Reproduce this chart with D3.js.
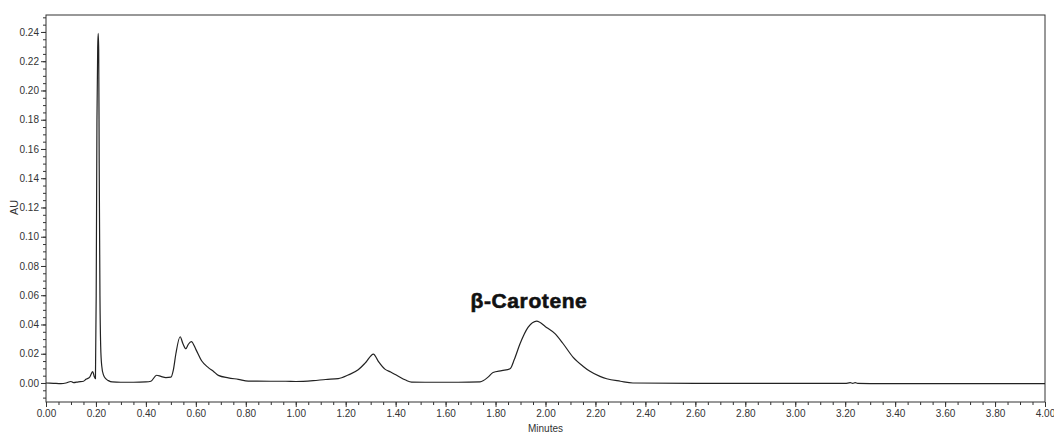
<!DOCTYPE html>
<html>
<head>
<meta charset="utf-8">
<script src="https://cdn.jsdelivr.net/npm/d3@7"></script>
<style>
  body { margin: 0; background: #fff; }
  svg text { font-family: "Liberation Sans Narrow", "Liberation Sans", Arial, sans-serif; fill: #333; }
</style>
</head>
<body>
<script>
// retention time (minutes) and absorbance (AU)
var times = [0.00, 0.03, 0.06, 0.08, 0.10, 0.11, 0.13, 0.15, 0.16, 0.175, 0.187, 0.193, 0.198,
  0.201, 0.204, 0.207, 0.209, 0.211, 0.213, 0.216, 0.219, 0.223, 0.230, 0.240, 0.250, 0.265,
  0.30, 0.35, 0.40, 0.42, 0.443, 0.46, 0.48, 0.50, 0.51, 0.52, 0.537, 0.548, 0.560, 0.570,
  0.582, 0.600, 0.623, 0.650, 0.670, 0.690, 0.73, 0.77, 0.81, 0.90, 0.96, 1.00, 1.07, 1.12,
  1.17, 1.21, 1.25, 1.28, 1.311, 1.33, 1.357, 1.38, 1.404, 1.44, 1.464, 1.55, 1.65, 1.738,
  1.77, 1.79, 1.825, 1.858, 1.875, 1.898, 1.93, 1.965, 2.00, 2.038, 2.07, 2.11, 2.15, 2.178,
  2.218, 2.245, 2.30, 2.35, 2.60, 3.00, 3.20, 3.22, 3.23, 3.24, 3.25, 3.30, 4.00];
var au = [0.0000, -0.0002, -0.0004, 0.0000, 0.0010, 0.0002, 0.0008, 0.0012, 0.0025, 0.0040, 0.0078, 0.0045, 0.0030,
  0.0600, 0.1800, 0.2290, 0.2390, 0.2280, 0.1500, 0.0600, 0.0250, 0.0120, 0.0055, 0.0028, 0.0016, 0.0007,
  0.0005, 0.0005, 0.0007, 0.0012, 0.0053, 0.0045, 0.0037, 0.0040, 0.0090, 0.0200, 0.0316, 0.0270, 0.0234, 0.0265,
  0.0283, 0.0230, 0.0152, 0.0105, 0.0080, 0.0052, 0.0035, 0.0025, 0.0013, 0.0012, 0.0012, 0.0010, 0.0016, 0.0024,
  0.0030, 0.0055, 0.0090, 0.0140, 0.0198, 0.0150, 0.0095, 0.0075, 0.0053, 0.0020, 0.0006, 0.0005, 0.0005, 0.0008,
  0.0040, 0.0072, 0.0085, 0.0097, 0.0160, 0.0268, 0.0380, 0.0423, 0.0385, 0.0337, 0.0270, 0.0177, 0.0115, 0.0080,
  0.0045, 0.0029, 0.0012, 0.0000, -0.0002, -0.0003, -0.0003, 0.0002, -0.0003, 0.0002, -0.0003, -0.0004, -0.0005];

var xMajor = d3.range(0, 4.0001, 0.2);
var xMinor = d3.range(0, 4.0001, 0.05);
var yMajor = d3.range(0, 0.2401, 0.02);
var yMinor = d3.range(-0.01, 0.2501, 0.005);

var peakLabel = { text: "β-Carotene", t: 1.7, v: 0.0515 };

var width = 1054, height = 437;
var margin = { left: 46, right: 9, top: 15, bottom: 35 };

var svg = d3.select("body").append("svg")
  .attr("width", width)
  .attr("height", height);

var x = d3.scaleLinear().domain([0, 4]).range([margin.left, width - margin.right]);
var y = d3.scaleLinear().domain([-0.013, 0.2516]).range([height - margin.bottom, margin.top]);

// frame
svg.append("rect")
  .attr("x", x(0)).attr("y", y(0.2516))
  .attr("width", x(4) - x(0)).attr("height", y(-0.013) - y(0.2516))
  .attr("fill", "none").attr("stroke", "#333").attr("stroke-width", 1);

// x axis: major with labels, minor without
var xAxis = svg.append("g").attr("transform", "translate(0," + y(-0.013) + ")");
xAxis.call(d3.axisBottom(x).tickValues(xMinor).tickSize(3).tickFormat(""));
xAxis.call(g => g.select(".domain").remove());
var xAxisMaj = svg.append("g").attr("transform", "translate(0," + y(-0.013) + ")")
  .call(d3.axisBottom(x).tickValues(xMajor).tickSize(5).tickPadding(3).tickFormat(d3.format(".2f")));
xAxisMaj.select(".domain").remove();

var yAxis = svg.append("g").attr("transform", "translate(" + x(0) + ",0)");
yAxis.call(d3.axisLeft(y).tickValues(yMinor).tickSize(3).tickFormat(""));
yAxis.call(g => g.select(".domain").remove());
var yAxisMaj = svg.append("g").attr("transform", "translate(" + x(0) + ",0)")
  .call(d3.axisLeft(y).tickValues(yMajor).tickSize(5).tickPadding(2).tickFormat(d3.format(".2f")));
yAxisMaj.select(".domain").remove();

svg.selectAll(".tick line").attr("stroke", "#333");
svg.selectAll(".tick text").attr("font-size", 10).attr("fill", "#333")
  .style("font-family", "'Liberation Sans Narrow', 'Liberation Sans', Arial, sans-serif");

// axis titles
svg.append("text")
  .attr("x", (x(0) + x(4)) / 2).attr("y", 432)
  .attr("text-anchor", "middle").attr("font-size", 10)
  .text("Minutes");

svg.append("text")
  .attr("transform", "translate(18," + y(0.12) + ") rotate(-90)")
  .attr("text-anchor", "middle").attr("font-size", 11)
  .text("AU");

// trace
var points = times.map((t, i) => [t, au[i]]);
var line = d3.line()
  .x(d => x(d[0]))
  .y(d => y(d[1]))
  .curve(d3.curveMonotoneX);

svg.append("path")
  .datum(points)
  .attr("d", line)
  .attr("fill", "none")
  .attr("stroke", "#222")
  .attr("stroke-width", 1.2);

// peak annotation
svg.append("text")
  .attr("x", x(peakLabel.t)).attr("y", y(peakLabel.v))
  .attr("font-size", 21).attr("font-weight", "bold")
  .attr("letter-spacing", 0.6)
  .style("font-family", "'Liberation Sans', Arial, sans-serif")
  .style("fill", "#111").style("stroke", "#111").style("stroke-width", 0.6)
  .text(peakLabel.text);
</script>
</body>
</html>
